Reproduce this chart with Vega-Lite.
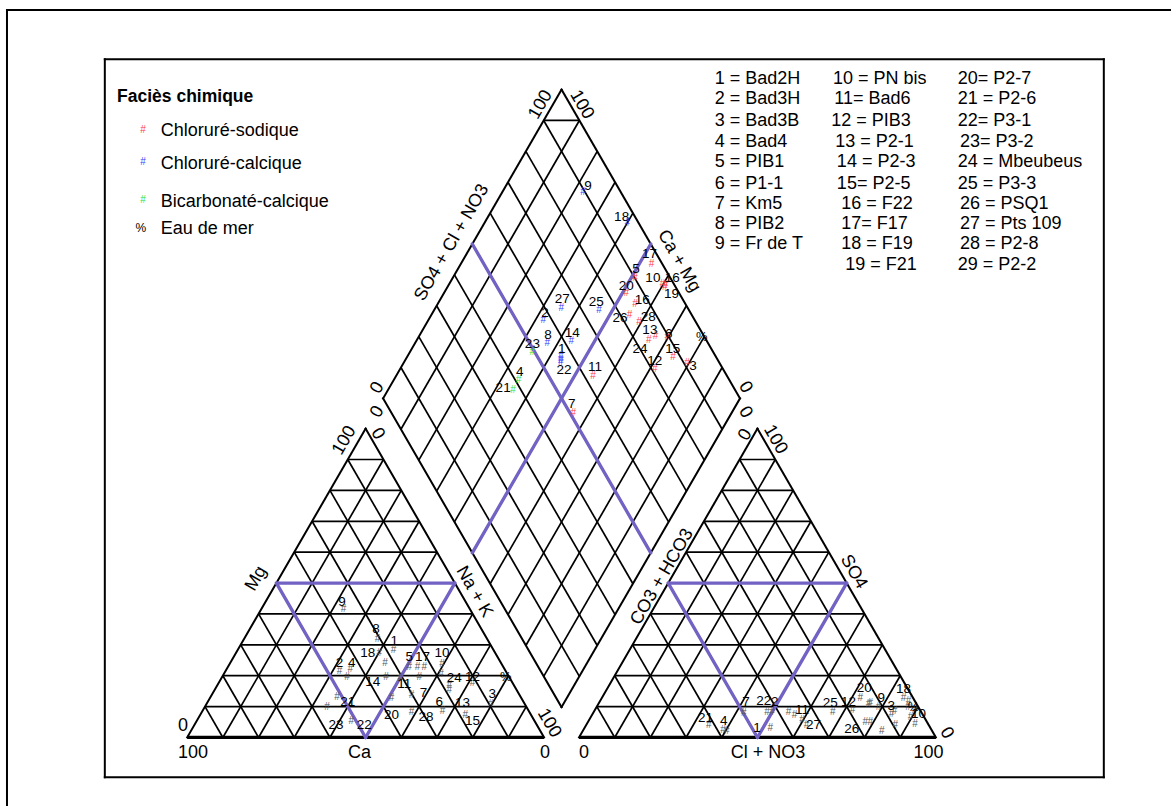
{
"$schema": "https://vega.github.io/schema/vega-lite/v6.json",
"width": 1172, "height": 807,
"autosize": {"type": "fit", "contains": "padding"},
"padding": 0,
"background": "white",
"config": {"view": {"stroke": null}, "text": {"font": "Liberation Sans"}},
"datasets": {
"lines": [
{"kind":"base","x":0,"y":0,"x2":357.5,"y2":0},
{"kind":"base","x":392.5,"y":0,"x2":750,"y2":0},
{"kind":"side","x":0,"y":0,"x2":178.75,"y2":309.6},
{"kind":"side","x":357.5,"y":0,"x2":178.75,"y2":309.6},
{"kind":"side","x":392.5,"y":0,"x2":571.25,"y2":309.6},
{"kind":"side","x":750,"y":0,"x2":571.25,"y2":309.6},
{"kind":"side","x":375,"y":30.3,"x2":196.25,"y2":339.9},
{"kind":"side","x":196.25,"y":339.9,"x2":375,"y2":649.5},
{"kind":"side","x":375,"y":649.5,"x2":553.75,"y2":339.9},
{"kind":"side","x":553.75,"y":339.9,"x2":375,"y2":30.3},
{"kind":"grid","x":17.875,"y":30.96,"x2":339.625,"y2":30.96},
{"kind":"grid","x":35.75,"y":61.92,"x2":321.75,"y2":61.92},
{"kind":"grid","x":53.625,"y":92.88,"x2":303.875,"y2":92.88},
{"kind":"grid","x":71.5,"y":123.84,"x2":286,"y2":123.84},
{"kind":"grid","x":89.375,"y":154.8,"x2":268.125,"y2":154.8},
{"kind":"grid","x":107.25,"y":185.76,"x2":250.25,"y2":185.76},
{"kind":"grid","x":125.125,"y":216.72,"x2":232.375,"y2":216.72},
{"kind":"grid","x":143,"y":247.68,"x2":214.5,"y2":247.68},
{"kind":"grid","x":160.875,"y":278.64,"x2":196.625,"y2":278.64},
{"kind":"grid","x":35.75,"y":0,"x2":196.625,"y2":278.64},
{"kind":"grid","x":71.5,"y":0,"x2":214.5,"y2":247.68},
{"kind":"grid","x":107.25,"y":0,"x2":232.375,"y2":216.72},
{"kind":"grid","x":143,"y":0,"x2":250.25,"y2":185.76},
{"kind":"grid","x":178.75,"y":0,"x2":268.125,"y2":154.8},
{"kind":"grid","x":214.5,"y":0,"x2":286,"y2":123.84},
{"kind":"grid","x":250.25,"y":0,"x2":303.875,"y2":92.88},
{"kind":"grid","x":286,"y":0,"x2":321.75,"y2":61.92},
{"kind":"grid","x":321.75,"y":0,"x2":339.625,"y2":30.96},
{"kind":"grid","x":35.75,"y":0,"x2":17.875,"y2":30.96},
{"kind":"grid","x":71.5,"y":0,"x2":35.75,"y2":61.92},
{"kind":"grid","x":107.25,"y":0,"x2":53.625,"y2":92.88},
{"kind":"grid","x":143,"y":0,"x2":71.5,"y2":123.84},
{"kind":"grid","x":178.75,"y":0,"x2":89.375,"y2":154.8},
{"kind":"grid","x":214.5,"y":0,"x2":107.25,"y2":185.76},
{"kind":"grid","x":250.25,"y":0,"x2":125.125,"y2":216.72},
{"kind":"grid","x":286,"y":0,"x2":143,"y2":247.68},
{"kind":"grid","x":321.75,"y":0,"x2":160.875,"y2":278.64},
{"kind":"grid","x":410.375,"y":30.96,"x2":732.125,"y2":30.96},
{"kind":"grid","x":428.25,"y":61.92,"x2":714.25,"y2":61.92},
{"kind":"grid","x":446.125,"y":92.88,"x2":696.375,"y2":92.88},
{"kind":"grid","x":464,"y":123.84,"x2":678.5,"y2":123.84},
{"kind":"grid","x":481.875,"y":154.8,"x2":660.625,"y2":154.8},
{"kind":"grid","x":499.75,"y":185.76,"x2":642.75,"y2":185.76},
{"kind":"grid","x":517.625,"y":216.72,"x2":624.875,"y2":216.72},
{"kind":"grid","x":535.5,"y":247.68,"x2":607,"y2":247.68},
{"kind":"grid","x":553.375,"y":278.64,"x2":589.125,"y2":278.64},
{"kind":"grid","x":428.25,"y":0,"x2":589.125,"y2":278.64},
{"kind":"grid","x":464,"y":0,"x2":607,"y2":247.68},
{"kind":"grid","x":499.75,"y":0,"x2":624.875,"y2":216.72},
{"kind":"grid","x":535.5,"y":0,"x2":642.75,"y2":185.76},
{"kind":"grid","x":571.25,"y":0,"x2":660.625,"y2":154.8},
{"kind":"grid","x":607,"y":0,"x2":678.5,"y2":123.84},
{"kind":"grid","x":642.75,"y":0,"x2":696.375,"y2":92.88},
{"kind":"grid","x":678.5,"y":0,"x2":714.25,"y2":61.92},
{"kind":"grid","x":714.25,"y":0,"x2":732.125,"y2":30.96},
{"kind":"grid","x":428.25,"y":0,"x2":410.375,"y2":30.96},
{"kind":"grid","x":464,"y":0,"x2":428.25,"y2":61.92},
{"kind":"grid","x":499.75,"y":0,"x2":446.125,"y2":92.88},
{"kind":"grid","x":535.5,"y":0,"x2":464,"y2":123.84},
{"kind":"grid","x":571.25,"y":0,"x2":481.875,"y2":154.8},
{"kind":"grid","x":607,"y":0,"x2":499.75,"y2":185.76},
{"kind":"grid","x":642.75,"y":0,"x2":517.625,"y2":216.72},
{"kind":"grid","x":678.5,"y":0,"x2":535.5,"y2":247.68},
{"kind":"grid","x":714.25,"y":0,"x2":553.375,"y2":278.64},
{"kind":"grid","x":392.875,"y":61.26,"x2":214.125,"y2":370.86},
{"kind":"grid","x":410.75,"y":92.22,"x2":232,"y2":401.82},
{"kind":"grid","x":428.625,"y":123.18,"x2":249.875,"y2":432.78},
{"kind":"grid","x":446.5,"y":154.14,"x2":267.75,"y2":463.74},
{"kind":"grid","x":464.375,"y":185.1,"x2":285.625,"y2":494.7},
{"kind":"grid","x":482.25,"y":216.06,"x2":303.5,"y2":525.66},
{"kind":"grid","x":500.125,"y":247.02,"x2":321.375,"y2":556.62},
{"kind":"grid","x":518,"y":277.98,"x2":339.25,"y2":587.58},
{"kind":"grid","x":535.875,"y":308.94,"x2":357.125,"y2":618.54},
{"kind":"grid","x":357.125,"y":61.26,"x2":535.875,"y2":370.86},
{"kind":"grid","x":339.25,"y":92.22,"x2":518,"y2":401.82},
{"kind":"grid","x":321.375,"y":123.18,"x2":500.125,"y2":432.78},
{"kind":"grid","x":303.5,"y":154.14,"x2":482.25,"y2":463.74},
{"kind":"grid","x":285.625,"y":185.1,"x2":464.375,"y2":494.7},
{"kind":"grid","x":267.75,"y":216.06,"x2":446.5,"y2":525.66},
{"kind":"grid","x":249.875,"y":247.02,"x2":428.625,"y2":556.62},
{"kind":"grid","x":232,"y":277.98,"x2":410.75,"y2":587.58},
{"kind":"grid","x":214.125,"y":308.94,"x2":392.875,"y2":618.54},
{"kind":"grid","x":357.125,"y":618.54,"x2":392.875,"y2":618.54},
{"kind":"frame","x":-180.5,"y":-67.7,"x2":-180.5,"y2":729.3},
{"kind":"frame","x":-180.5,"y":729.3,"x2":984.5,"y2":729.3},
{"kind":"frame","x":-82.5,"y":-40,"x2":918.2,"y2":-40},
{"kind":"frame","x":918.2,"y":-40,"x2":918.2,"y2":680},
{"kind":"frame","x":918.2,"y":680,"x2":-82.5,"y2":680},
{"kind":"frame","x":-82.5,"y":680,"x2":-82.5,"y2":-40}
],
"purple": [
{"x":89.375,"y":154.8,"x2":268.125,"y2":154.8},
{"x":89.375,"y":154.8,"x2":178.75,"y2":0},
{"x":268.125,"y":154.8,"x2":178.75,"y2":0},
{"x":481.875,"y":154.8,"x2":660.625,"y2":154.8},
{"x":481.875,"y":154.8,"x2":571.25,"y2":0},
{"x":660.625,"y":154.8,"x2":571.25,"y2":0},
{"x":464.375,"y":185.1,"x2":285.625,"y2":494.7},
{"x":285.625,"y":185.1,"x2":464.375,"y2":494.7}
],
"samples": [
{"panel":"cations","id":1,"facies":"Chloruré-calcique","x":206.8,"y":87.3,"label":"1","lx":207.5,"ly":96.3},
{"panel":"cations","id":2,"facies":"Chloruré-calcique","x":152.5,"y":66.8,"label":"2","lx":152.5,"ly":74.3},
{"panel":"cations","id":3,"facies":"Chloruré-sodique","x":304.2,"y":33.3,"label":"3","lx":305.5,"ly":43.3},
{"panel":"cations","id":4,"facies":"Bicarbonaté-calcique","x":163.5,"y":68.6,"label":"4","lx":164.8,"ly":74.8},
{"panel":"cations","id":5,"facies":"Chloruré-sodique","x":222.5,"y":71,"label":"5","lx":222.5,"ly":80.3},
{"panel":"cations","id":6,"facies":"Chloruré-sodique","x":255.8,"y":26.6,"label":"6","lx":252.5,"ly":36},
{"panel":"cations","id":7,"facies":"Chloruré-sodique","x":224.8,"y":42.6,"label":"7","lx":236.8,"ly":44.3},
{"panel":"cations","id":8,"facies":"Chloruré-calcique","x":190.8,"y":98.6,"label":"8","lx":189.2,"ly":108.6},
{"panel":"cations","id":9,"facies":"Chloruré-calcique","x":156.5,"y":128.6,"label":"9","lx":155.2,"ly":136.3},
{"panel":"cations","id":10,"facies":"Chloruré-sodique","x":255.2,"y":73.3,"label":"10","lx":255.2,"ly":84.3},
{"panel":"cations","id":11,"facies":"Chloruré-sodique","x":213.5,"y":59.3,"label":"11","lx":217.5,"ly":53.3},
{"panel":"cations","id":12,"facies":"Chloruré-sodique","x":285.8,"y":54.3,"label":"12","lx":285.8,"ly":61},
{"panel":"cations","id":13,"facies":"Chloruré-sodique","x":262.5,"y":47.6,"label":"13","lx":275.8,"ly":34.3},
{"panel":"cations","id":14,"facies":"Chloruré-calcique","x":199.2,"y":61,"label":"14","lx":185.8,"ly":56},
{"panel":"cations","id":15,"facies":"Chloruré-sodique","x":278.5,"y":22.6,"label":"15","lx":285.8,"ly":16.6},
{"panel":"cations","id":16,"facies":"Chloruré-sodique","x":237.5,"y":71,"label":""},
{"panel":"cations","id":17,"facies":"Chloruré-sodique","x":230.8,"y":71,"label":"17","lx":235.8,"ly":80.3},
{"panel":"cations","id":18,"facies":"Chloruré-calcique","x":192.5,"y":84.3,"label":"18","lx":180.8,"ly":84.3},
{"panel":"cations","id":19,"facies":"Chloruré-sodique","x":232.5,"y":61,"label":""},
{"panel":"cations","id":20,"facies":"Chloruré-sodique","x":204.8,"y":40,"label":"20","lx":204.8,"ly":22.6},
{"panel":"cations","id":21,"facies":"Bicarbonaté-calcique","x":150.2,"y":41,"label":"21","lx":160.8,"ly":36},
{"panel":"cations","id":22,"facies":"Chloruré-calcique","x":164.5,"y":16.6,"label":"22","lx":177.5,"ly":12.6},
{"panel":"cations","id":23,"facies":"Bicarbonaté-calcique","x":140.2,"y":31,"label":"23","lx":149.2,"ly":12.6},
{"panel":"cations","id":24,"facies":"Chloruré-sodique","x":254.2,"y":63.3,"label":"24","lx":267.5,"ly":60},
{"panel":"cations","id":25,"facies":"Chloruré-calcique","x":198.2,"y":74.3,"label":""},
{"panel":"cations","id":26,"facies":"Chloruré-sodique","x":262.5,"y":52.6,"label":""},
{"panel":"cations","id":27,"facies":"Chloruré-calcique","x":160.2,"y":60.3,"label":""},
{"panel":"cations","id":28,"facies":"Chloruré-sodique","x":224.8,"y":26,"label":"28","lx":239.2,"ly":20.3},
{"panel":"cations","id":0,"facies":"Eau de mer","x":319.2,"y":61,"label":""},
{"panel":"anions","id":1,"facies":"Chloruré-calcique","x":584.2,"y":9.3,"label":"1","lx":570.8,"ly":9.3},
{"panel":"anions","id":2,"facies":"Chloruré-calcique","x":585.8,"y":26,"label":"2","lx":588.5,"ly":36},
{"panel":"anions","id":3,"facies":"Chloruré-sodique","x":705.5,"y":23.3,"label":"3","lx":705.2,"ly":32},
{"panel":"anions","id":4,"facies":"Bicarbonaté-calcique","x":536.8,"y":7.6,"label":"4","lx":537.5,"ly":17},
{"panel":"anions","id":5,"facies":"Chloruré-sodique","x":722.5,"y":37,"label":""},
{"panel":"anions","id":6,"facies":"Chloruré-sodique","x":708.5,"y":26.3,"label":""},
{"panel":"anions","id":7,"facies":"Chloruré-sodique","x":557.5,"y":24.3,"label":"7","lx":559.8,"ly":36},
{"panel":"anions","id":8,"facies":"Chloruré-calcique","x":608.5,"y":22.6,"label":""},
{"panel":"anions","id":9,"facies":"Chloruré-calcique","x":692.5,"y":31,"label":"9","lx":695.2,"ly":40},
{"panel":"anions","id":10,"facies":"Chloruré-sodique","x":729.2,"y":27.6,"label":"10","lx":732.5,"ly":23.3},
{"panel":"anions","id":11,"facies":"Chloruré-sodique","x":615.8,"y":17.6,"label":"11","lx":615.8,"ly":27.6},
{"panel":"anions","id":12,"facies":"Chloruré-sodique","x":666.5,"y":27.6,"label":"12","lx":662.5,"ly":36},
{"panel":"anions","id":13,"facies":"Chloruré-sodique","x":695.8,"y":6,"label":""},
{"panel":"anions","id":14,"facies":"Chloruré-calcique","x":602.5,"y":26,"label":""},
{"panel":"anions","id":15,"facies":"Chloruré-sodique","x":709.2,"y":12.6,"label":""},
{"panel":"anions","id":16,"facies":"Chloruré-sodique","x":729.2,"y":14,"label":""},
{"panel":"anions","id":17,"facies":"Chloruré-sodique","x":722,"y":30.3,"label":""},
{"panel":"anions","id":18,"facies":"Chloruré-calcique","x":717.5,"y":39.3,"label":"18","lx":717.5,"ly":48.6},
{"panel":"anions","id":19,"facies":"Chloruré-sodique","x":724.5,"y":20.3,"label":""},
{"panel":"anions","id":20,"facies":"Chloruré-sodique","x":674.2,"y":40,"label":"20","lx":678.2,"ly":49.3},
{"panel":"anions","id":21,"facies":"Bicarbonaté-calcique","x":522.5,"y":12,"label":"21","lx":519.2,"ly":20},
{"panel":"anions","id":22,"facies":"Chloruré-calcique","x":580.8,"y":26,"label":"22","lx":577.5,"ly":36.6},
{"panel":"anions","id":23,"facies":"Bicarbonaté-calcique","x":540.5,"y":6.3,"label":""},
{"panel":"anions","id":24,"facies":"Chloruré-sodique","x":684.2,"y":35,"label":""},
{"panel":"anions","id":25,"facies":"Chloruré-calcique","x":646.8,"y":26,"label":"25","lx":644.2,"ly":35},
{"panel":"anions","id":26,"facies":"Chloruré-sodique","x":679.2,"y":16,"label":"26","lx":665.8,"ly":8.6},
{"panel":"anions","id":27,"facies":"Chloruré-calcique","x":620.5,"y":12.3,"label":"27","lx":627.5,"ly":12},
{"panel":"anions","id":28,"facies":"Chloruré-sodique","x":684.2,"y":16,"label":""},
{"panel":"anions","id":29,"facies":"Chloruré-calcique","x":682.5,"y":33.3,"label":""},
{"panel":"anions","id":0,"facies":"Eau de mer","x":727.5,"y":31,"label":""},
{"panel":"diamond","id":1,"facies":"Chloruré-calcique","x":374.2,"y":382.3,"label":"1","lx":375.2,"ly":389.3},
{"panel":"diamond","id":2,"facies":"Chloruré-calcique","x":356.8,"y":418.6,"label":"2","lx":358.5,"ly":426},
{"panel":"diamond","id":3,"facies":"Chloruré-sodique","x":500.8,"y":375.3,"label":"3","lx":506.8,"ly":372},
{"panel":"diamond","id":4,"facies":"Bicarbonaté-calcique","x":331.8,"y":358.6,"label":"4","lx":333.2,"ly":366},
{"panel":"diamond","id":5,"facies":"Chloruré-sodique","x":448.5,"y":461,"label":"5","lx":449.5,"ly":470},
{"panel":"diamond","id":6,"facies":"Chloruré-sodique","x":480.8,"y":401,"label":"6","lx":482.5,"ly":404.3},
{"panel":"diamond","id":7,"facies":"Chloruré-sodique","x":386.8,"y":325,"label":"7","lx":385.2,"ly":334.3},
{"panel":"diamond","id":8,"facies":"Chloruré-calcique","x":360.8,"y":395.3,"label":"8","lx":361.5,"ly":403.6},
{"panel":"diamond","id":9,"facies":"Chloruré-calcique","x":396.5,"y":546.6,"label":"9","lx":401.5,"ly":553.3},
{"panel":"diamond","id":10,"facies":"Chloruré-sodique","x":475.8,"y":454.3,"label":"10","lx":466.5,"ly":460.6},
{"panel":"diamond","id":11,"facies":"Chloruré-sodique","x":406.5,"y":362.6,"label":"11","lx":408.5,"ly":371.6},
{"panel":"diamond","id":12,"facies":"Chloruré-sodique","x":468.5,"y":369.3,"label":"12","lx":468.5,"ly":377.6},
{"panel":"diamond","id":13,"facies":"Chloruré-sodique","x":469.2,"y":402.6,"label":"13","lx":463.5,"ly":408.6},
{"panel":"diamond","id":14,"facies":"Chloruré-calcique","x":384.8,"y":397.6,"label":"14","lx":385.8,"ly":405},
{"panel":"diamond","id":15,"facies":"Chloruré-sodique","x":486.8,"y":381,"label":"15","lx":486.5,"ly":389.3},
{"panel":"diamond","id":16,"facies":"Chloruré-sodique","x":479.2,"y":453.3,"label":"16","lx":485.8,"ly":460.6},
{"panel":"diamond","id":16,"facies":"Chloruré-sodique","x":448.5,"y":434.3,"label":"16","lx":455.8,"ly":438.6},
{"panel":"diamond","id":17,"facies":"Chloruré-sodique","x":465.2,"y":475,"label":"17","lx":463.2,"ly":484.3},
{"panel":"diamond","id":18,"facies":"Chloruré-calcique","x":440.8,"y":515.3,"label":"18","lx":435.2,"ly":522},
{"panel":"diamond","id":19,"facies":"Chloruré-sodique","x":478.5,"y":451.3,"label":"19","lx":485.2,"ly":444.3},
{"panel":"diamond","id":20,"facies":"Chloruré-sodique","x":439.8,"y":446,"label":"20","lx":439.8,"ly":452.6},
{"panel":"diamond","id":21,"facies":"Bicarbonaté-calcique","x":326.5,"y":348.6,"label":"21","lx":316.5,"ly":350},
{"panel":"diamond","id":22,"facies":"Chloruré-calcique","x":374.2,"y":376,"label":"22","lx":377.5,"ly":368.3},
{"panel":"diamond","id":23,"facies":"Bicarbonaté-calcique","x":345.8,"y":386.6,"label":"23","lx":345.8,"ly":394.3},
{"panel":"diamond","id":24,"facies":"Chloruré-sodique","x":462.5,"y":398.6,"label":"24","lx":453.5,"ly":389.3},
{"panel":"diamond","id":25,"facies":"Chloruré-calcique","x":412.5,"y":428.3,"label":"25","lx":409.8,"ly":436.6},
{"panel":"diamond","id":26,"facies":"Chloruré-sodique","x":443.2,"y":423.3,"label":"26","lx":433.5,"ly":420.3},
{"panel":"diamond","id":27,"facies":"Chloruré-calcique","x":374.8,"y":431,"label":"27","lx":375.8,"ly":440},
{"panel":"diamond","id":28,"facies":"Chloruré-sodique","x":452.5,"y":416.6,"label":"28","lx":461.8,"ly":421.6},
{"panel":"diamond","id":29,"facies":"Chloruré-calcique","x":374.2,"y":378.6,"label":""},
{"panel":"diamond","id":0,"facies":"Eau de mer","x":515.5,"y":401.3,"label":""}
],
"axistext": [
{"text":"Ca","dir":"flat","x":172.5,"y":-15.7},
{"text":"100","dir":"flat","x":5.8,"y":-15.7},
{"text":"0","dir":"flat","x":358.5,"y":-15.7},
{"text":"0","dir":"flat","x":-4.2,"y":11},
{"text":"Cl + NO3","dir":"flat","x":581.8,"y":-15.7},
{"text":"0","dir":"flat","x":397.5,"y":-15.7},
{"text":"100","dir":"flat","x":742.5,"y":-15.7},
{"text":"Mg","dir":"up","x":69.2,"y":159.3},
{"text":"100","dir":"up","x":157.5,"y":297.6},
{"text":"CO3 + HCO3","dir":"up","x":475.8,"y":161},
{"text":"0","dir":"up","x":559.2,"y":303.3},
{"text":"SO4 + Cl + NO3","dir":"up","x":265.2,"y":496},
{"text":"100","dir":"up","x":354.2,"y":634.3},
{"text":"0","dir":"up","x":190.5,"y":350.3},
{"text":"0","dir":"up","x":190.5,"y":326.3},
{"text":"Na + K","dir":"down","x":287.5,"y":146},
{"text":"0","dir":"down","x":190.8,"y":304.3},
{"text":"100","dir":"down","x":362.5,"y":14.3},
{"text":"SO4","dir":"down","x":667.5,"y":166},
{"text":"100","dir":"down","x":589.2,"y":298.6},
{"text":"0","dir":"down","x":760.8,"y":4.3},
{"text":"Ca + Mg","dir":"down","x":492.5,"y":477.6},
{"text":"100","dir":"down","x":395.2,"y":634.3},
{"text":"0","dir":"down","x":559.2,"y":351},
{"text":"0","dir":"down","x":559.2,"y":326}
],
"legend": [
{"facies":"Chloruré-sodique","x":-44.2,"y":608.6,"tx":-26.5,"ty":607.6},
{"facies":"Chloruré-calcique","x":-44.2,"y":576.6,"tx":-26.5,"ty":575.3},
{"facies":"Bicarbonaté-calcique","x":-44.2,"y":538.6,"tx":-26.5,"ty":537},
{"facies":"Eau de mer","x":-46.5,"y":511,"tx":-26.5,"ty":510}
],
"heading": [{"text":"Faciès chimique","x":-70.2,"y":642}],
"list": [
{"text":"1 = Bad2H","x":528.5,"y":660.3},
{"text":"2 = Bad3H","x":528.5,"y":640},
{"text":"3 = Bad3B","x":528.5,"y":617.6},
{"text":"4 = Bad4","x":528.5,"y":597},
{"text":"5 = PIB1","x":528.5,"y":577},
{"text":"6 = P1-1","x":528.5,"y":555},
{"text":"7 = Km5","x":528.5,"y":535},
{"text":"8 = PIB2","x":528.5,"y":515},
{"text":"9 =  Fr de T","x":528.5,"y":495},
{"text":"10 = PN bis","x":646.8,"y":660.3},
{"text":"11= Bad6","x":648.2,"y":640},
{"text":"12 = PIB3","x":645.2,"y":617.6},
{"text":"13 = P2-1","x":649.2,"y":597},
{"text":"14 = P2-3","x":650.8,"y":577},
{"text":"15= P2-5","x":650.8,"y":555},
{"text":"16 = F22","x":655.2,"y":535},
{"text":"17= F17","x":655.2,"y":515},
{"text":"18 = F19","x":655.2,"y":495},
{"text":"19 = F21","x":659.2,"y":473.6},
{"text":"20= P2-7","x":771.8,"y":660.3},
{"text":"21 = P2-6","x":771.8,"y":640},
{"text":"22= P3-1","x":771.8,"y":617.6},
{"text":"23= P3-2","x":774.2,"y":597},
{"text":"24 = Mbeubeus","x":771.8,"y":577},
{"text":"25 = P3-3","x":771.8,"y":555},
{"text":"26 = PSQ1","x":774.2,"y":535},
{"text":"27 = Pts 109","x":774.2,"y":515},
{"text":"28 = P2-8","x":774.2,"y":495},
{"text":"29 = P2-2","x":771.8,"y":473.6}
]
},
"layer": [
{"data":{"name":"lines"},"transform":[{"filter":"datum.kind === 'grid'"}],
 "mark":{"type":"rule","color":"black","strokeWidth":1.7},
 "encoding":{"x":{"field":"x","type":"quantitative","scale":{"domain":[-187.5,984.5],"nice":false,"zero":false},"axis":null},
  "y":{"field":"y","type":"quantitative","scale":{"domain":[-67.7,739.3],"nice":false,"zero":false},"axis":null},
  "x2":{"field":"x2"},"y2":{"field":"y2"}}},
{"data":{"name":"lines"},"transform":[{"filter":"datum.kind === 'side'"}],
 "mark":{"type":"rule","color":"black","strokeWidth":2,"strokeCap":"square"},
 "encoding":{"x":{"field":"x","type":"quantitative","scale":{"domain":[-187.5,984.5],"nice":false,"zero":false},"axis":null},
  "y":{"field":"y","type":"quantitative","scale":{"domain":[-67.7,739.3],"nice":false,"zero":false},"axis":null},
  "x2":{"field":"x2"},"y2":{"field":"y2"}}},
{"data":{"name":"lines"},"transform":[{"filter":"datum.kind === 'base'"}],
 "mark":{"type":"rule","color":"black","strokeWidth":3.3},
 "encoding":{"x":{"field":"x","type":"quantitative","scale":{"domain":[-187.5,984.5],"nice":false,"zero":false},"axis":null},
  "y":{"field":"y","type":"quantitative","scale":{"domain":[-67.7,739.3],"nice":false,"zero":false},"axis":null},
  "x2":{"field":"x2"},"y2":{"field":"y2"}}},
{"data":{"name":"lines"},"transform":[{"filter":"datum.kind === 'frame'"}],
 "mark":{"type":"rule","color":"black","strokeWidth":2,"strokeCap":"square"},
 "encoding":{"x":{"field":"x","type":"quantitative","scale":{"domain":[-187.5,984.5],"nice":false,"zero":false},"axis":null},
  "y":{"field":"y","type":"quantitative","scale":{"domain":[-67.7,739.3],"nice":false,"zero":false},"axis":null},
  "x2":{"field":"x2"},"y2":{"field":"y2"}}},
{"data":{"name":"purple"},
 "mark":{"type":"rule","color":"#7262C4","strokeWidth":3.3,"strokeCap":"round"},
 "encoding":{"x":{"field":"x","type":"quantitative","scale":{"domain":[-187.5,984.5],"nice":false,"zero":false},"axis":null},
  "y":{"field":"y","type":"quantitative","scale":{"domain":[-67.7,739.3],"nice":false,"zero":false},"axis":null},
  "x2":{"field":"x2"},"y2":{"field":"y2"}}},
{"data":{"name":"samples"},"transform":[{"filter":"datum.panel !== 'diamond' && datum.facies !== 'Eau de mer'"}],
 "mark":{"type":"text","text":"#","fontSize":10,"color":"#555555","align":"center","baseline":"middle"},
 "encoding":{"x":{"field":"x","type":"quantitative","scale":{"domain":[-187.5,984.5],"nice":false,"zero":false},"axis":null},
  "y":{"field":"y","type":"quantitative","scale":{"domain":[-67.7,739.3],"nice":false,"zero":false},"axis":null}}},
{"data":{"name":"samples"},"transform":[{"filter":"datum.panel === 'diamond' && datum.facies !== 'Eau de mer'"}],
 "mark":{"type":"text","text":"#","fontSize":10,"align":"center","baseline":"middle"},
 "encoding":{"x":{"field":"x","type":"quantitative","scale":{"domain":[-187.5,984.5],"nice":false,"zero":false},"axis":null},
  "y":{"field":"y","type":"quantitative","scale":{"domain":[-67.7,739.3],"nice":false,"zero":false},"axis":null},
  "color":{"field":"facies","type":"nominal","scale":{"domain":["Chloruré-sodique","Chloruré-calcique","Bicarbonaté-calcique","Eau de mer"],"range":["#ff3c3c","#3c3cff","#2ee02e","#000000"]},"legend":null}}},
{"data":{"name":"samples"},"transform":[{"filter":"datum.facies === 'Eau de mer'"}],
 "mark":{"type":"text","text":"%","fontSize":13,"color":"black","align":"center","baseline":"middle"},
 "encoding":{"x":{"field":"x","type":"quantitative","scale":{"domain":[-187.5,984.5],"nice":false,"zero":false},"axis":null},
  "y":{"field":"y","type":"quantitative","scale":{"domain":[-67.7,739.3],"nice":false,"zero":false},"axis":null}}},
{"data":{"name":"samples"},"transform":[{"filter":"datum.label !== ''"}],
 "mark":{"type":"text","fontSize":13.5,"color":"black","align":"center","baseline":"middle"},
 "encoding":{"x":{"field":"lx","type":"quantitative","scale":{"domain":[-187.5,984.5],"nice":false,"zero":false},"axis":null},
  "y":{"field":"ly","type":"quantitative","scale":{"domain":[-67.7,739.3],"nice":false,"zero":false},"axis":null},
  "text":{"field":"label"}}},
{"data":{"name":"axistext"},"transform":[{"filter":"datum.dir === 'flat'"}],
 "mark":{"type":"text","fontSize":18,"color":"black","align":"center","baseline":"middle"},
 "encoding":{"x":{"field":"x","type":"quantitative","scale":{"domain":[-187.5,984.5],"nice":false,"zero":false},"axis":null},
  "y":{"field":"y","type":"quantitative","scale":{"domain":[-67.7,739.3],"nice":false,"zero":false},"axis":null},
  "text":{"field":"text"}}},
{"data":{"name":"axistext"},"transform":[{"filter":"datum.dir === 'up'"}],
 "mark":{"type":"text","fontSize":18,"color":"black","align":"center","baseline":"middle","angle":300},
 "encoding":{"x":{"field":"x","type":"quantitative","scale":{"domain":[-187.5,984.5],"nice":false,"zero":false},"axis":null},
  "y":{"field":"y","type":"quantitative","scale":{"domain":[-67.7,739.3],"nice":false,"zero":false},"axis":null},
  "text":{"field":"text"}}},
{"data":{"name":"axistext"},"transform":[{"filter":"datum.dir === 'down'"}],
 "mark":{"type":"text","fontSize":18,"color":"black","align":"center","baseline":"middle","angle":60},
 "encoding":{"x":{"field":"x","type":"quantitative","scale":{"domain":[-187.5,984.5],"nice":false,"zero":false},"axis":null},
  "y":{"field":"y","type":"quantitative","scale":{"domain":[-67.7,739.3],"nice":false,"zero":false},"axis":null},
  "text":{"field":"text"}}},
{"data":{"name":"legend"},"transform":[{"filter":"datum.facies !== 'Eau de mer'"}],
 "mark":{"type":"text","text":"#","fontSize":10,"align":"center","baseline":"middle"},
 "encoding":{"x":{"field":"x","type":"quantitative","scale":{"domain":[-187.5,984.5],"nice":false,"zero":false},"axis":null},
  "y":{"field":"y","type":"quantitative","scale":{"domain":[-67.7,739.3],"nice":false,"zero":false},"axis":null},
  "color":{"field":"facies","type":"nominal","scale":{"domain":["Chloruré-sodique","Chloruré-calcique","Bicarbonaté-calcique","Eau de mer"],"range":["#ff3c3c","#3c3cff","#2ee02e","#000000"]},"legend":null}}},
{"data":{"name":"legend"},"transform":[{"filter":"datum.facies === 'Eau de mer'"}],
 "mark":{"type":"text","text":"%","fontSize":12,"color":"black","align":"center","baseline":"middle"},
 "encoding":{"x":{"field":"x","type":"quantitative","scale":{"domain":[-187.5,984.5],"nice":false,"zero":false},"axis":null},
  "y":{"field":"y","type":"quantitative","scale":{"domain":[-67.7,739.3],"nice":false,"zero":false},"axis":null}}},
{"data":{"name":"legend"},
 "mark":{"type":"text","fontSize":18,"color":"black","align":"left","baseline":"middle"},
 "encoding":{"x":{"field":"tx","type":"quantitative","scale":{"domain":[-187.5,984.5],"nice":false,"zero":false},"axis":null},
  "y":{"field":"ty","type":"quantitative","scale":{"domain":[-67.7,739.3],"nice":false,"zero":false},"axis":null},
  "text":{"field":"facies"}}},
{"data":{"name":"heading"},
 "mark":{"type":"text","fontSize":17.5,"fontWeight":"bold","color":"black","align":"left","baseline":"middle"},
 "encoding":{"x":{"field":"x","type":"quantitative","scale":{"domain":[-187.5,984.5],"nice":false,"zero":false},"axis":null},
  "y":{"field":"y","type":"quantitative","scale":{"domain":[-67.7,739.3],"nice":false,"zero":false},"axis":null},
  "text":{"field":"text"}}},
{"data":{"name":"list"},
 "mark":{"type":"text","fontSize":18,"color":"black","align":"left","baseline":"middle"},
 "encoding":{"x":{"field":"x","type":"quantitative","scale":{"domain":[-187.5,984.5],"nice":false,"zero":false},"axis":null},
  "y":{"field":"y","type":"quantitative","scale":{"domain":[-67.7,739.3],"nice":false,"zero":false},"axis":null},
  "text":{"field":"text"}}}
]
}
